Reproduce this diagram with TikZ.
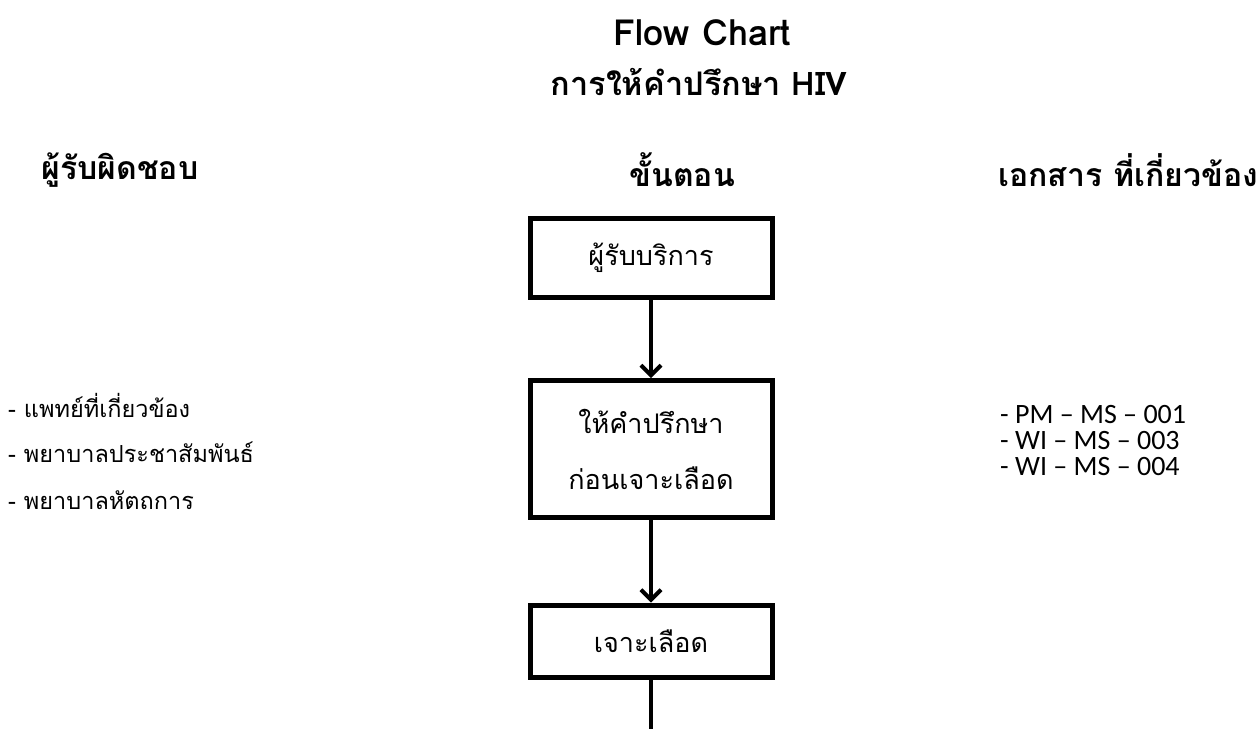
\documentclass[tikz,border=0pt]{standalone}
\usepackage{fontspec}
\usetikzlibrary{arrows.meta,positioning}
\newfontfamily\thaifont[Script=Thai]{Loma}
\newfontfamily\docfont{Carlito}
\tikzstyle{stepbox} = [draw, line width=5pt, minimum width=242pt, align=center, font=\thaifont\fontsize{27}{56}\selectfont]
\tikzstyle{flow} = [line width=4pt, -{Straight Barb[length=10pt,width=20pt,line width=4pt]}]

\begin{document}
\begin{tikzpicture}[x=1pt,y=-1pt,
			title/.style={font=\thaifont\bfseries\fontsize{36}{40}\selectfont},
			head/.style={font=\thaifont\bfseries\fontsize{32}{36}\selectfont},
			who/.style={anchor=west, inner sep=0pt, font=\thaifont\fontsize{23.5}{26}\selectfont},
			doc/.style={anchor=west, font=\docfont\fontsize{28}{30}\selectfont, inner sep=0pt}]
			\useasboundingbox (0,0) rectangle (1259,729);
			% titles
			\node (t1)[title] at (702,33) {Flow Chart};
			\node (t2)[title, font=\thaifont\bfseries\fontsize{32.5}{40}\selectfont] at (699,82) {การให้คำปรึกษา HIV};
			\node (h1)[head] at (120,170) {ผู้รับผิดชอบ};
			\node (h2)[head] at (682,170) {ขั้นตอน};
			\node (h3)[head] at (1128,170) {เอกสาร ที่เกี่ยวข้อง};
			
			% steps
			\node (s1)[stepbox, minimum height=79pt] at (651,257.5) {ผู้รับบริการ};
			\node (s2)[stepbox, minimum height=137pt, text depth=-4pt] at (651,449) {ให้คำปรึกษา\\ก่อนเจาะเลือด};
			\node (s3)[stepbox, minimum height=72pt] at (651,641) {เจาะเลือด};
			\coordinate (end) at (651,729);
			
			\draw[flow] (s1) -- (s2);
			\draw[flow] (s2) -- (s3);
			\draw[line width=4pt] (s3) -- (end);
			
			% responsible
			\node (w1)[who] at (8,405) {- แพทย์ที่เกี่ยวข้อง};
			\node (w2)[who] at (8,452) {- พยาบาลประชาสัมพันธ์};
			\node (w3)[who] at (8,500) {- พยาบาลหัตถการ};
			
			% documents
			\node (d1)[doc] at (1000,415) {- PM – MS – 001};
			\node (d2)[doc] at (1000,441) {- WI – MS – 003};
			\node (d3)[doc] at (1000,467) {- WI – MS – 004};
\end{tikzpicture}
\end{document}
